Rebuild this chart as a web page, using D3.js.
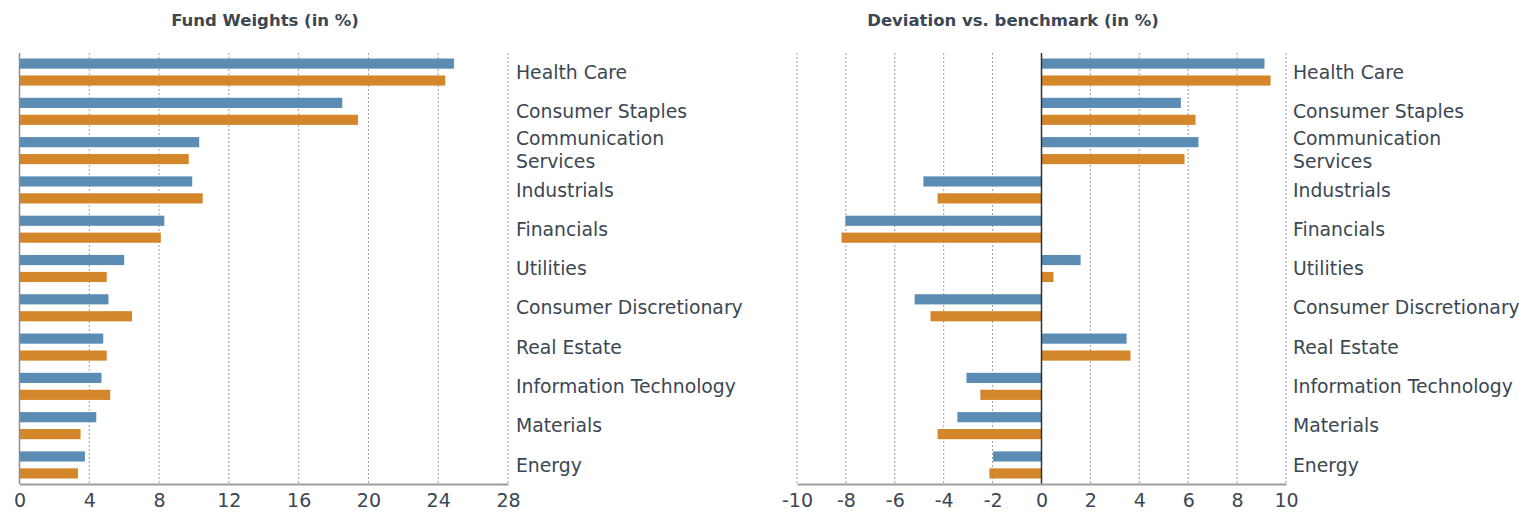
<!DOCTYPE html>
<html>
<head>
    <meta charset="utf-8">
    <title>Fund Weights vs Benchmark</title>
    <script src="https://d3js.org/d3.v7.min.js"></script>
    <style>
        body { margin: 0; background: #fff; }
        text { font-family: "DejaVu Sans", Verdana, sans-serif; fill: #3b4753; }
    </style>
</head>
<body>
    <div id="chart"></div>
    <script>
        // sectors, top to bottom
        const sectors = ["Health Care", "Consumer Staples", "Communication Services", "Industrials",
            "Financials", "Utilities", "Consumer Discretionary", "Real Estate",
            "Information Technology", "Materials", "Energy"];
        const seriesNames = ["blue", "orange"];
        const colors = ["#5b8cb4", "#d3872a"];

        // fund weights (in %)
        const weightsBlue = [24.9, 18.5, 10.3, 9.9, 8.3, 6.0, 5.1, 4.8, 4.7, 4.4, 3.75];
        const weightsOrange = [24.4, 19.4, 9.7, 10.5, 8.1, 5.0, 6.45, 5.0, 5.2, 3.5, 3.35];

        // deviation vs. benchmark (in %)
        const devBlue = [9.12, 5.7, 6.42, -4.83, -8.02, 1.6, -5.19, 3.48, -3.07, -3.44, -1.98];
        const devOrange = [9.37, 6.3, 5.85, -4.25, -8.18, 0.49, -4.54, 3.64, -2.5, -4.25, -2.13];

        const weightTicks = [0, 4, 8, 12, 16, 20, 24, 28];
        const devTicks = [-10, -8, -6, -4, -2, 0, 2, 4, 6, 8, 10];

        const width = 1519, height = 512;
        const plotTop = 53, plotBottom = 484;

        const svg = d3.select("#chart").append("svg")
            .attr("width", width)
            .attr("height", height);

        const y = d3.scaleBand()
            .domain(sectors)
            .range([plotTop, plotBottom])
            .paddingInner(0.31)
            .paddingOuter(0.14);

        const ySub = d3.scaleBand()
            .domain(seriesNames)
            .range([0, y.bandwidth()])
            .paddingInner(0.4);

        function drawPanel(opts) {
            const x = d3.scaleLinear().domain(opts.domain).range(opts.range);
            const g = svg.append("g");

            // title
            g.append("text")
                .attr("x", opts.titleX)
                .attr("y", 26)
                .attr("text-anchor", "middle")
                .style("font-weight", "bold")
                .style("font-size", "16.5px")
                .text(opts.title);

            // dotted grid
            g.selectAll(".grid")
                .data(opts.ticks.filter(t => t !== opts.baseline))
                .join("line")
                .attr("x1", d => x(d)).attr("x2", d => x(d))
                .attr("y1", plotTop).attr("y2", plotBottom)
                .attr("stroke", "#9a9ea3")
                .attr("stroke-width", 1)
                .attr("stroke-dasharray", "2,2");

            // bars
            const rows = sectors.map((s, i) => ({ sector: s, values: [opts.blue[i], opts.orange[i]] }));
            const row = g.selectAll(".row").data(rows).join("g")
                .attr("transform", d => `translate(0,${y(d.sector)})`);
            row.selectAll("rect")
                .data(d => d.values.map((v, k) => ({ key: seriesNames[k], v: v, k: k })))
                .join("rect")
                .attr("x", d => x(Math.min(0, d.v)))
                .attr("width", d => Math.abs(x(d.v) - x(0)))
                .attr("y", d => ySub(d.key))
                .attr("height", ySub.bandwidth())
                .attr("fill", d => colors[d.k]);

            // baseline axis
            g.append("line")
                .attr("x1", x(opts.baseline)).attr("x2", x(opts.baseline))
                .attr("y1", plotTop).attr("y2", plotBottom)
                .attr("stroke", opts.baselineColor)
                .attr("stroke-width", 1.5);

            // bottom axis
            const axis = g.append("g")
                .attr("transform", `translate(0,${plotBottom})`)
                .call(d3.axisBottom(x).tickValues(opts.ticks).tickSize(0).tickPadding(10)
                    .tickFormat(d => String(d)));
            axis.select(".domain").attr("stroke", "#9a9ea3").attr("stroke-width", 2);
            axis.selectAll("text")
                .style("font-size", "19px")
                .style("font-family", "DejaVu Sans, Verdana, sans-serif")
                .attr("fill", "#3b4753");

            // category labels
            const lab = g.selectAll(".lab").data(sectors).join("text")
                .attr("x", opts.labelX)
                .attr("y", d => y(d) + y.bandwidth() / 2)
                .style("font-size", "18.8px");
            lab.each(function (d) {
                const t = d3.select(this);
                if (d === "Communication Services") {
                    t.append("tspan").attr("x", opts.labelX).attr("dy", "-0.3em").text("Communication");
                    t.append("tspan").attr("x", opts.labelX).attr("dy", "1.22em").text("Services");
                } else {
                    t.attr("dy", "0.35em").text(d);
                }
            });
        }

        drawPanel({
            title: "Fund Weights (in %)", titleX: 265,
            domain: [0, 28], range: [19.5, 508],
            ticks: weightTicks, baseline: 0, baselineColor: "#8a8f95",
            blue: weightsBlue, orange: weightsOrange, labelX: 516
        });

        drawPanel({
            title: "Deviation vs. benchmark (in %)", titleX: 1013,
            domain: [-10, 10], range: [797, 1286],
            ticks: devTicks, baseline: 0, baselineColor: "#2e3338",
            blue: devBlue, orange: devOrange, labelX: 1293
        });
    </script>
</body>
</html>
